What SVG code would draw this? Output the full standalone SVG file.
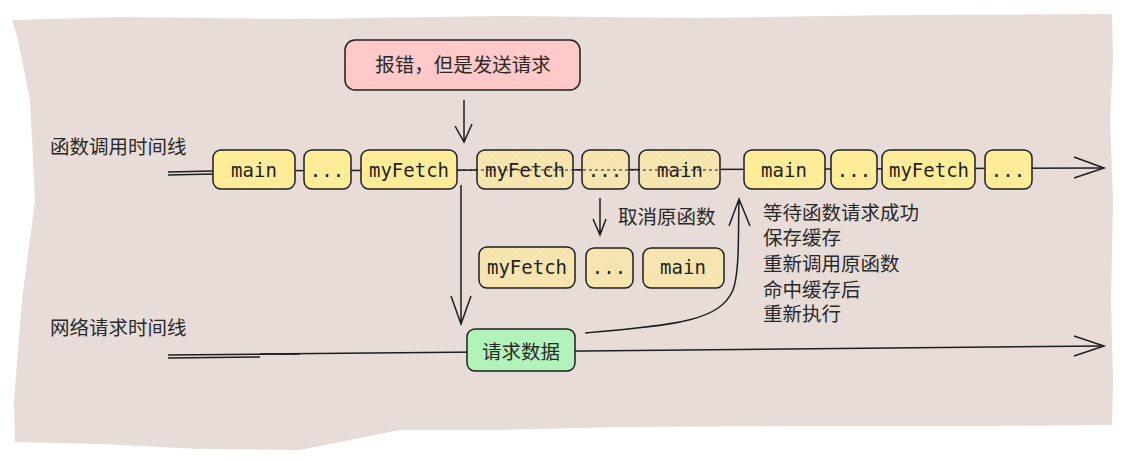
<svg xmlns="http://www.w3.org/2000/svg" width="1141" height="461" viewBox="0 0 1141 461">
<defs>
<style>
.box{stroke:#1e1e1e;stroke-width:1.5}
.y{fill:#ffec99}
.h{fill:url(#hatch)}
.code{font-family:"DejaVu Sans Mono","Liberation Mono",monospace;font-size:19px;fill:#1e1e1e;text-anchor:middle}
.zh{font-family:"Liberation Sans","Noto Sans CJK SC",sans-serif;font-size:19.5px;fill:#2a2a2a}
.ln{stroke:#1e1e1e;stroke-width:1.5;fill:none}
</style>
<pattern id="hatch" width="6" height="6" patternUnits="userSpaceOnUse">
<rect width="6" height="6" fill="#f3e2b5"/>
<path d="M0 0L6 6M6 0L0 6" stroke="#fbeaa0" stroke-width="1"/>
</pattern>
</defs>
<path d="M12 20 L120 17 L300 19 L500 16 L700 18 L900 15 L1112 14 L1113 60 L1110 120 L1113 200 L1111 300 L1113 380 L1112 425 L1000 426 L800 426 L620 427 L500 430 L400 430 L300 450 L200 449 L100 444 L15 442 L14 400 L22 300 L35 200 L30 100 L18 40 Z" fill="#e8dcd8"/>
<g id="labels">
<text class="zh" x="50" y="154">函数调用时间线</text>
<text class="zh" x="50" y="335">网络请求时间线</text>
<text class="zh" x="618" y="224">取消原函数</text>
<text class="zh" x="763" y="220">等待函数请求成功</text>
<text class="zh" x="763" y="245">保存缓存</text>
<text class="zh" x="763" y="271">重新调用原函数</text>
<text class="zh" x="763" y="297">命中缓存后</text>
<text class="zh" x="763" y="321">重新执行</text>
</g>
<g id="connectors">
<path class="ln" d="M168 172 L213 171 M168 175 L213 174"/>
<path class="ln" d="M213 171 L1103 168"/>
<path class="ln" d="M1074 157 L1104 168 L1074 178"/>
<path class="ln" d="M168 355 L300 354 M168 358 L260 357"/>
<path class="ln" d="M260 354 L1103 346"/>
<path class="ln" d="M1074 336 L1104 346 L1074 356"/>
<path class="ln" d="M464 100 L464 142 M455 126 L464 142 L472 124"/>
<path class="ln" d="M461 185 L461 324 M451 296 L461 324 L471 296"/>
<path class="ln" d="M600 198 L600 233 M593 219 L600 235 L606 219"/>
<path class="ln" d="M585 333 C680 325 720 320 733 290 C740 270 738 230 739 200 M729 226 L739 199 L750 226"/>
</g>
<g id="n-error"><rect class="box" x="345" y="40" width="235" height="50" rx="10" fill="#ffc9c9"/><text class="zh" x="463" y="72" text-anchor="middle">报错，但是发送请求</text></g>
<g id="n-main1"><rect class="box y" x="213" y="150" width="82" height="39" rx="8"/><text class="code" x="254" y="177">main</text></g>
<g id="n-dots1"><rect class="box y" x="304" y="150" width="47" height="39" rx="8"/><text class="code" x="327" y="177">...</text></g>
<g id="n-fetch1"><rect class="box y" x="361" y="150" width="96" height="39" rx="8"/><text class="code" x="409" y="177">myFetch</text></g>
<g id="n-fetch2"><rect class="box h" x="477" y="150" width="96" height="39" rx="8"/><text class="code" x="525" y="177">myFetch</text></g>
<g id="n-dots2"><rect class="box h" x="582" y="150" width="47" height="39" rx="8"/><text class="code" x="605" y="177">...</text></g>
<g id="n-main2"><rect class="box h" x="639" y="150" width="81" height="39" rx="8"/><text class="code" x="680" y="177">main</text></g>
<path d="M457 170 L720 170" stroke="#1e1e1e" stroke-width="1" stroke-dasharray="3 3" fill="none"/>
<g id="n-main3"><rect class="box y" x="744" y="150" width="81" height="39" rx="8"/><text class="code" x="784" y="177">main</text></g>
<g id="n-dots3"><rect class="box y" x="831" y="150" width="46" height="39" rx="8"/><text class="code" x="854" y="177">...</text></g>
<g id="n-fetch3"><rect class="box y" x="882" y="150" width="93" height="39" rx="8"/><text class="code" x="929" y="177">myFetch</text></g>
<g id="n-dots4"><rect class="box y" x="985" y="150" width="47" height="39" rx="8"/><text class="code" x="1008" y="177">...</text></g>
<g id="n-fetch4"><rect class="box h" x="479" y="247" width="96" height="41" rx="8"/><text class="code" x="527" y="274">myFetch</text></g>
<g id="n-dots5"><rect class="box h" x="586" y="248" width="47" height="40" rx="8"/><text class="code" x="609" y="274">...</text></g>
<g id="n-main4"><rect class="box h" x="643" y="248" width="81" height="40" rx="8"/><text class="code" x="683" y="274">main</text></g>
<g id="n-request"><rect class="box" x="467" y="329" width="108" height="42" rx="8" fill="#b2f2bb"/><text class="zh" x="521" y="359" text-anchor="middle">请求数据</text></g>
</svg>
